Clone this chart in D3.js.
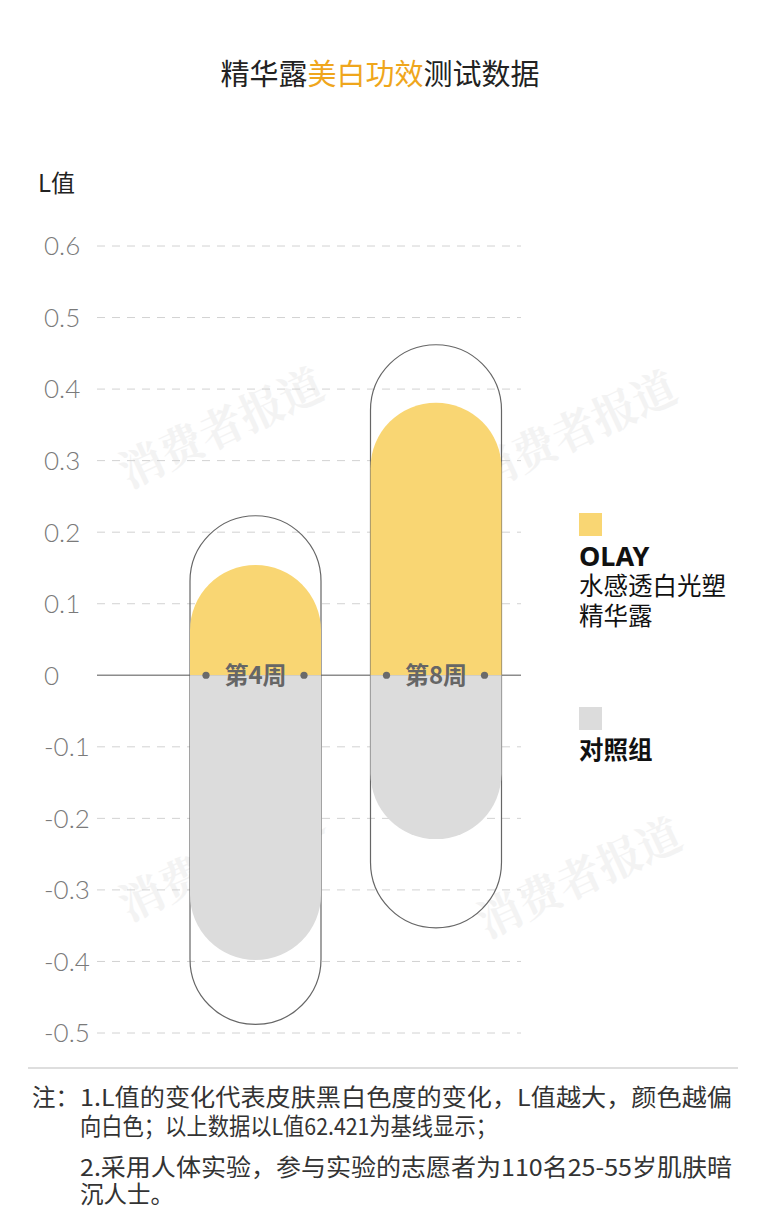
<!DOCTYPE html>
<html><head><meta charset="utf-8">
<script src="https://cdn.jsdelivr.net/npm/d3@7/dist/d3.min.js"></script>
<style>
html,body{margin:0;padding:0;background:#fff;}
svg{display:block;font-family:"Noto Sans CJK SC","Noto Sans",sans-serif;}
</style></head>
<body>
<svg id="c" width="761" height="1228"></svg>
<script>
const weeks = ["第4周", "第8周"];
const olay = [0.154, 0.381];
const control = [-0.398, -0.229];
const outlineTop = [0.223, 0.462];
const outlineBottom = [-0.488, -0.353];
const yTicks = [0.6, 0.5, 0.4, 0.3, 0.2, 0.1, 0, -0.1, -0.2, -0.3, -0.4, -0.5];
const legendItems = [
  {name: ["OLAY", "水感透白光塑", "精华露"], color: "#F9D673"},
  {name: ["对照组"], color: "#DCDCDC"}
];
const notes = [
  "1.L值的变化代表皮肤黑白色度的变化，L值越大，颜色越偏",
  "向白色；以上数据以L值62.421为基线显示；",
  "2.采用人体实验，参与实验的志愿者为110名25-55岁肌肤暗",
  "沉人士。"
];

const svg = d3.select("#c");
const y = d3.scaleLinear().domain([-0.5, 0.6]).range([1033, 246]);
const x = d3.scalePoint().domain(weeks).range([255.5, 436]);
const bw = 131, r = bw / 2;
const gridX0 = 97, gridX1 = 521;

// watermarks
[[220, 425], [573, 428], [220, 858], [578, 875]].forEach(([cx, cy]) => {
  svg.append("text").attr("x", cx).attr("y", cy)
    .attr("transform", `rotate(-25 ${cx} ${cy})`)
    .attr("text-anchor", "middle").attr("dominant-baseline", "central")
    .attr("font-size", 44).attr("font-weight", 700)
    .attr("font-family", "'Noto Serif CJK SC','Noto Sans CJK SC',serif")
    .attr("fill", "#f3f3f3").text("消费者报道");
});

// title
const title = svg.append("text").attr("x", 380).attr("y", 85)
  .attr("text-anchor", "middle").attr("font-size", 29).attr("fill", "#222");
title.append("tspan").text("精华露");
title.append("tspan").attr("fill", "#EFA61C").text("美白功效");
title.append("tspan").text("测试数据");

// axis label
svg.append("text").attr("x", 38).attr("y", 192).attr("font-size", 24)
  .attr("fill", "#222").text("L值");

// grid
svg.append("g").selectAll("line").data(yTicks.filter(d => d !== 0)).join("line")
  .attr("x1", gridX0).attr("x2", gridX1)
  .attr("y1", d => y(d)).attr("y2", d => y(d))
  .attr("stroke", "#d2d2d2").attr("stroke-width", 1).attr("stroke-dasharray", "8,7");
svg.append("line").attr("x1", gridX0).attr("x2", gridX1)
  .attr("y1", y(0)).attr("y2", y(0)).attr("stroke", "#8c8c8c").attr("stroke-width", 1.5);

// tick labels
svg.append("g").selectAll("text").data(yTicks).join("text")
  .attr("x", 44).attr("y", d => y(d)).attr("dy", "0.36em")
  .attr("font-size", 26).attr("font-weight", 300).attr("fill", "#7a7a7a")
  .attr("font-family", "Lato,'Noto Sans',sans-serif")
  .text(d => d === 0 ? "0" : d.toFixed(1));

function capsulePath(cx, top, bottom, roundTop, roundBottom) {
  const l = cx - r, rr = cx + r;
  const p = d3.path();
  if (roundTop) {
    p.moveTo(l, top + r);
    p.arc(cx, top + r, r, Math.PI, 2 * Math.PI);
  } else {
    p.moveTo(l, top); p.lineTo(rr, top);
  }
  if (roundBottom) {
    p.lineTo(rr, bottom - r);
    p.arc(cx, bottom - r, r, 0, Math.PI);
  } else {
    p.lineTo(rr, bottom); p.lineTo(l, bottom);
  }
  p.closePath();
  return p.toString();
}

const g = svg.append("g");
weeks.forEach((w, i) => {
  const cx = x(w);
  g.append("path").attr("d", capsulePath(cx, y(outlineTop[i]), y(outlineBottom[i]), true, true))
    .attr("fill", "none").attr("stroke", "#666").attr("stroke-width", 1.2);
  g.append("path").attr("d", capsulePath(cx, y(olay[i]), y(0), true, false))
    .attr("fill", legendItems[0].color);
  g.append("path").attr("d", capsulePath(cx, y(0), y(control[i]), false, true))
    .attr("fill", legendItems[1].color);
  [-49.5, 48.5].forEach(dx => {
    g.append("circle").attr("cx", cx + dx).attr("cy", y(0)).attr("r", 3.6).attr("fill", "#6a6a6a");
  });
  g.append("text").attr("x", cx).attr("y", y(0)).attr("dy", "0.36em")
    .attr("text-anchor", "middle").attr("font-size", 24).attr("font-weight", 700)
    .attr("fill", "#666").text(w);
});

// legend
const legY = [513, 707];
const legText = [[566, 595, 625], [759]];
legendItems.forEach((it, i) => {
  svg.append("rect").attr("x", 579).attr("y", legY[i]).attr("width", 23).attr("height", 23)
    .attr("fill", it.color);
  const t = svg.append("text").attr("fill", "#111").attr("font-size", 24.5);
  it.name.forEach((s, j) => {
    const first = i === 0 && j === 0;
    t.append("tspan").attr("x", 579).attr("y", legText[i][j])
      .attr("font-size", first ? 27 : 24.5)
      .attr("font-weight", (first || i === 1) ? 700 : 400)
      .attr("font-family", first ? "'Noto Sans',sans-serif" : null)
      .text(s);
  });
});

// separator
svg.append("line").attr("x1", 28).attr("x2", 738).attr("y1", 1068).attr("y2", 1068)
  .attr("stroke", "#bdbdbd").attr("stroke-width", 1);

// notes
const noteY = [1106, 1135, 1176, 1203];
const noteW = [652, 417, 652, null];
const nt = svg.append("text").attr("font-size", 23.5).attr("fill", "#333");
nt.append("tspan").attr("x", 32).attr("y", noteY[0]).text("注：");
notes.forEach((s, i) => {
  const ts = nt.append("tspan").attr("x", 80).attr("y", noteY[i]).text(s);
  if (noteW[i]) ts.attr("textLength", noteW[i]).attr("lengthAdjust", "spacingAndGlyphs");
});
</script>
</body></html>
